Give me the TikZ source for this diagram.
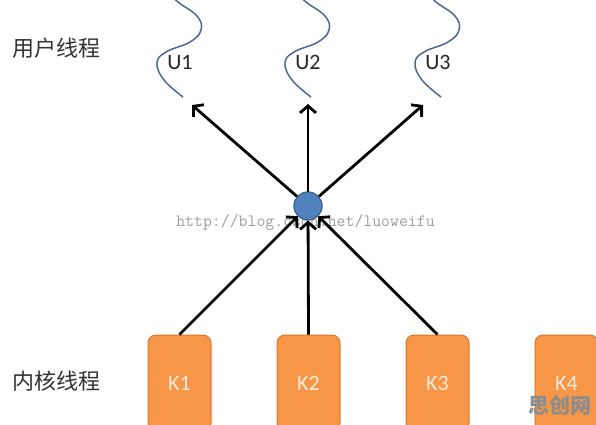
\documentclass[tikz,border=0pt]{standalone}
\usepackage{fontspec}
\setmainfont{Carlito}
\newfontfamily\cjk{Noto Sans CJK SC}
\usetikzlibrary{arrows.meta}
\definecolor{kfill}{HTML}{F79646}
\definecolor{kline}{HTML}{D9782F}
\definecolor{ktext}{HTML}{FDEBDD}
\definecolor{cfill}{HTML}{4F81BD}
\definecolor{cline}{HTML}{385D8A}
\definecolor{wave}{HTML}{4A6890}
\definecolor{lbl}{HTML}{333333}
\tikzset{
  kbox/.style={rectangle, rounded corners=8pt, minimum width=63pt, minimum height=96pt,
    fill=kfill, draw=kline, line width=1pt, text=ktext, font=\fontsize{22}{22}\selectfont, inner sep=0pt},
  ulabel/.style={text=black!85, font=\fontsize{22}{22}\selectfont, inner sep=0pt},
  side/.style={text=lbl, font=\cjk\fontsize{22}{22}\selectfont, inner sep=0pt, anchor=west},
  arr/.style={line width=2.8pt, black, -{Straight Barb[length=7pt,width=16pt,line width=2.8pt]}},
  wavy/.style={wave, line width=1.5pt},
  hub/.style={circle, minimum size=28pt, inner sep=0pt, fill=cfill, draw=cline, line width=1pt}
}
\begin{document}
\begin{tikzpicture}[x=1pt,y=-1pt]
\useasboundingbox (0,0) rectangle (596,424);
\clip (0,0) rectangle (596,424);
\fill[white] (0,0) rectangle (596,424);

% watermark
\node[text=black!38, font=\ttfamily\fontsize{17.3}{17}\selectfont, inner sep=0pt] (wm) at (305.5,222) {http://blog.csdn.net/luoweifu};

% side labels
\node[side] (lu) at (12,48) {用户线程};
\node[side] (lk) at (12,381) {内核线程};

% wavy user threads
\foreach \dx/\n in {0/1,128/2,258/3}{
  \begin{scope}[xshift=\dx pt]
  \draw[wavy] plot[smooth, tension=0.7] coordinates {(166,-10) (178,2) (197,16) (201,30) (190,42) (166,52) (157,63) (164,80) (183,97)};
  \end{scope}
}
\node[ulabel] (u1) at (180,62) {U1};
\node[ulabel] (u2) at (308,62) {U2};
\node[ulabel] (u3) at (438,62) {U3};

\coordinate (t1) at (192,105);
\coordinate (t2) at (308,104);
\coordinate (t3) at (423,105);

% hub and kernel threads
\node[hub] (c) at (308,206) {};
\node[kbox] (k1) at (179.5,383) {K1};
\node[kbox] (k2) at (308.5,383) {K2};
\node[kbox] (k3) at (437.5,383) {K3};
\node[kbox] (k4) at (566.5,383) {K4};

% arrows
\draw[arr] (c) -- (t1);
\draw[arr] (c) -- (t2);
\draw[arr] (c) -- (t3);
\draw[arr] (k1.north) -- (c);
\draw[arr] (k2.north) -- (c);
\draw[arr] (k3.north) -- (c);
\node[hub] at (c) {};

% watermark 2
\node[text=black!45, font=\cjk\bfseries\fontsize{21}{21}\selectfont, inner sep=0pt] (wm2) at (560,405) {思创网};
\end{tikzpicture}
\end{document}
